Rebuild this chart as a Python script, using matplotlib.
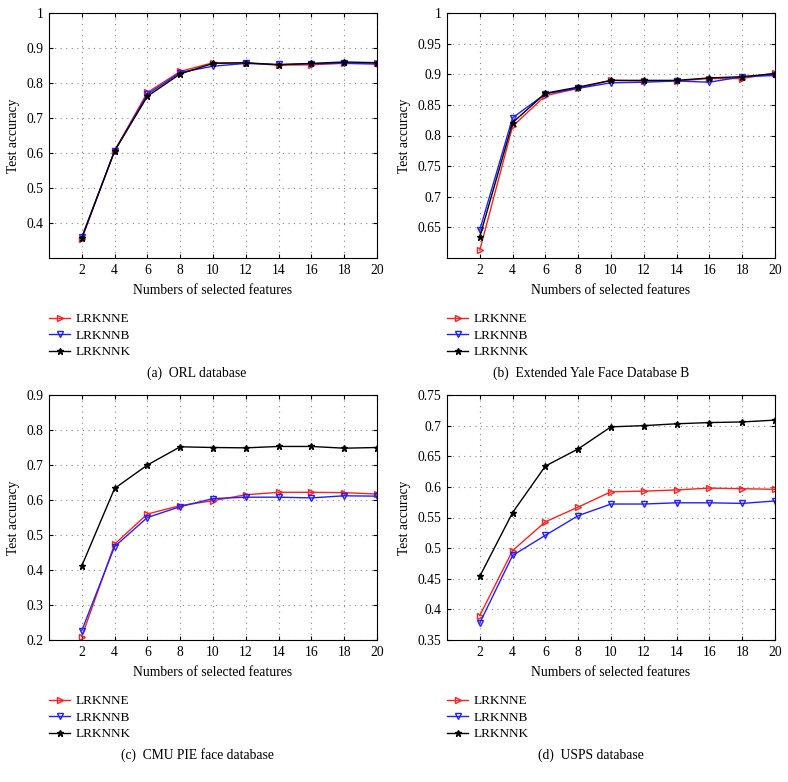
import numpy as np
import matplotlib.pyplot as plt

plt.rcParams['font.family'] = 'Liberation Serif'

## data ##
features = [2, 4, 6, 8, 10, 12, 14, 16, 18, 20]
methods = ['LRKNNE', 'LRKNNB', 'LRKNNK']

orl_e = [0.355, 0.607, 0.773, 0.833, 0.858, 0.857, 0.851, 0.852, 0.857, 0.857]
orl_b = [0.360, 0.605, 0.768, 0.830, 0.848, 0.856, 0.853, 0.855, 0.856, 0.854]
orl_k = [0.357, 0.606, 0.762, 0.826, 0.856, 0.858, 0.852, 0.856, 0.860, 0.858]

yale_e = [0.613, 0.815, 0.865, 0.877, 0.890, 0.889, 0.889, 0.893, 0.893, 0.902]
yale_b = [0.646, 0.829, 0.868, 0.877, 0.886, 0.887, 0.889, 0.887, 0.896, 0.898]
yale_k = [0.635, 0.821, 0.869, 0.879, 0.890, 0.890, 0.890, 0.894, 0.896, 0.901]

pie_e = [0.210, 0.474, 0.560, 0.584, 0.598, 0.615, 0.622, 0.622, 0.621, 0.617]
pie_b = [0.227, 0.467, 0.550, 0.581, 0.604, 0.608, 0.608, 0.606, 0.612, 0.611]
pie_k = [0.412, 0.633, 0.700, 0.752, 0.750, 0.749, 0.753, 0.753, 0.748, 0.750]

usps_e = [0.390, 0.496, 0.543, 0.567, 0.592, 0.593, 0.595, 0.598, 0.597, 0.596]
usps_b = [0.378, 0.488, 0.521, 0.553, 0.572, 0.572, 0.574, 0.574, 0.573, 0.577]
usps_k = [0.454, 0.558, 0.634, 0.662, 0.698, 0.700, 0.703, 0.705, 0.706, 0.709]

captions = ['(a)  ORL database', '(b)  Extended Yale Face Database B',
            '(c)  CMU PIE face database', '(d)  USPS database']

W, H = 788, 782
fig = plt.figure(figsize=(W / 100, H / 100), dpi=100)

def px_axes(left, top, right, bottom):
    return fig.add_axes([left / W, 1 - bottom / H, (right - left) / W, (bottom - top) / H])

# panel settings: (box in px, ylim, yticks, data, caption y, panel center x)
panels = [
    ((49, 13, 377, 258), (0.3, 1.0), np.arange(0.4, 1.01, 0.1), (orl_e, orl_b, orl_k), 373, 197),
    ((447, 13, 775, 258), (0.6, 1.0), np.arange(0.65, 1.01, 0.05), (yale_e, yale_b, yale_k), 373, 591),
    ((49, 395, 377, 640), (0.2, 0.9), np.arange(0.2, 0.91, 0.1), (pie_e, pie_b, pie_k), 755, 197),
    ((447, 395, 775, 640), (0.35, 0.75), np.arange(0.35, 0.76, 0.05), (usps_e, usps_b, usps_k), 755, 591),
]

for i, (box, ylim, yticks, series, cap_y, cx) in enumerate(panels):
    ax = px_axes(*box)
    e, b, k = series
    ax.plot(features, e, color='#ff2020', lw=1, marker='>', ms=5, mfc='none', mec='#ff2020', label=methods[0])
    ax.plot(features, b, color='#2020ff', lw=1, marker='v', ms=5, mfc='none', mec='#2020ff', label=methods[1])
    ax.plot(features, k, color='black', lw=1, marker='*', ms=4.5, label=methods[2])

    ax.set_xlim(0, 20)
    ax.set_ylim(*ylim)
    ax.set_xticks(features)
    ax.set_yticks(yticks)
    ax.set_yticklabels([f'{v:g}' for v in np.round(yticks, 2)])
    ax.grid(True, ls=(0, (1, 4)), color='#888888', lw=0.8)
    ax.tick_params(direction='in', top=True, right=True, labelsize=9.8, length=3, pad=4)
    for s in ax.spines.values():
        s.set_linewidth(0.8)
    ax.set_xlabel('Numbers of selected features', fontsize=9.8, labelpad=5)
    ax.set_ylabel('Test accuracy', fontsize=9.8, labelpad=5)

    leg_top = box[3] + 55
    ax.legend(loc='upper left', bbox_to_anchor=(box[0] / W, 1 - leg_top / H),
              bbox_transform=fig.transFigure, frameon=False, fontsize=9.5,
              borderpad=0, borderaxespad=0, labelspacing=0.32, handlelength=1.6,
              handletextpad=0.45)

    fig.text(cx / W, 1 - cap_y / H, captions[i], ha='center', va='center', fontsize=9.8)

plt.savefig('out.png', dpi=100)
